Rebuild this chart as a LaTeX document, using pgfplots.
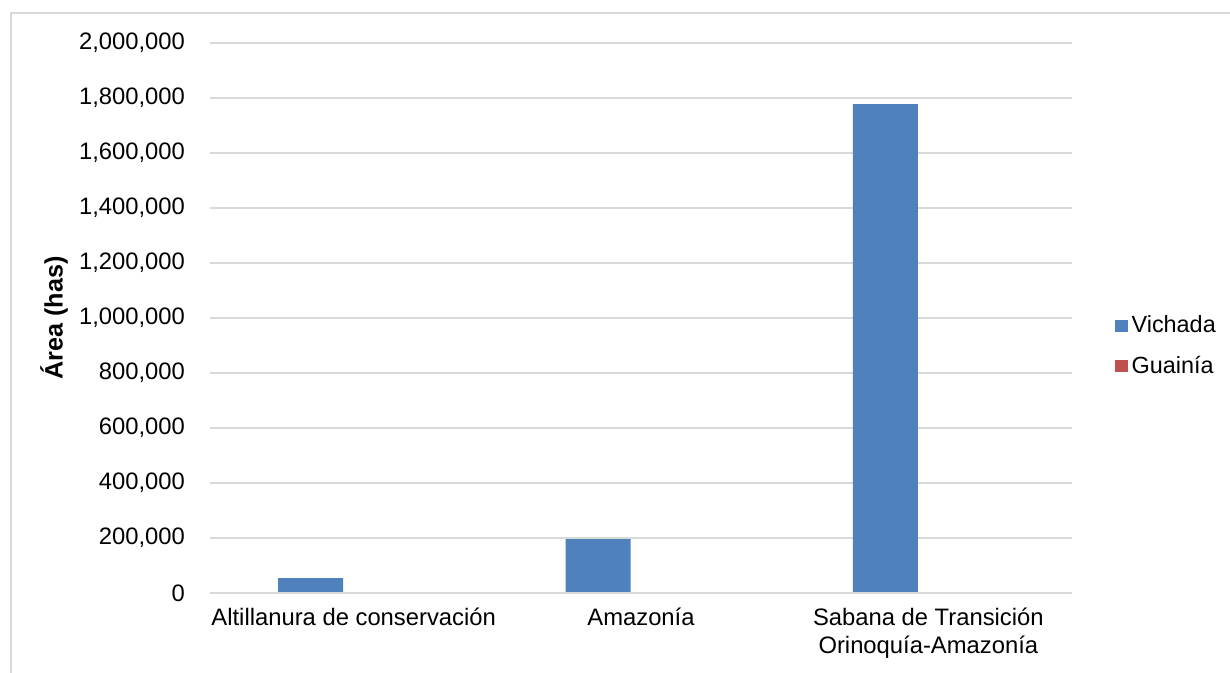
\documentclass[border=0pt]{standalone}
\usepackage{pgfplots}
\pgfplotsset{compat=1.18}
\usepackage{fontspec}
\setmainfont{Liberation Sans}
\definecolor{vichada}{HTML}{4F81BD}
\definecolor{guainia}{HTML}{C0504D}
\definecolor{gridgray}{HTML}{D9D9D9}
\begin{document}
\begin{tikzpicture}
\path[use as bounding box] (0,0) rectangle (615pt,336.5pt);
% chart frame
\draw[gridgray, line width=0.8pt] (5.5pt,0) -- (5.5pt,330pt) -- (615pt,330pt);
\begin{axis}[
  at={(105pt,40pt)}, anchor=south west,
  scale only axis, width=431pt, height=275pt,
  ybar=10.5pt, bar width=32.5pt,
  xmin=-0.5, xmax=2.5, ymin=0, ymax=2000000,
  xtick={0,1,2},
  xticklabels={Altillanura de conservación, Amazonía, {Sabana de Transición\\Orinoquía-Amazonía}},
  xticklabel style={align=center, font=\fontsize{11.9}{14}\selectfont, yshift=-4pt},
  ytick={0,200000,...,2000000},
  scaled y ticks=false,
  yticklabel style={/pgf/number format/.cd, fixed, 1000 sep={,}, assume math mode=true, /tikz/.cd, font=\fontsize{11.9}{14}\selectfont, xshift=-9pt},
  major tick length=0pt,
  axis line style={draw=none},
  ymajorgrids, grid style={gridgray, line width=0.75pt},
  ylabel={\textbf{Área (has)}},
  every axis y label/.style={at={(rel axis cs:0,0.5)}, xshift=-78pt, rotate=90, anchor=center,
    font=\fontsize{12.6}{15}\selectfont},
  legend style={at={(rel axis cs:1.049,0.449)}, anchor=west, draw=none, fill=none,
    font=\fontsize{11.7}{14}\selectfont, row sep=6pt, inner sep=0pt},
  legend cell align=left,
  legend image code/.code={\fill[#1] (0pt,-3.2pt) rectangle (6.5pt,3.2pt);},
  clip=false,
]
\addplot[fill=vichada, draw=none] coordinates {(0,54000) (1,196000) (2,1778000)};
\addplot[fill=guainia, draw=none] coordinates {(0,0) (1,800) (2,0)};
\draw[gridgray, line width=0.75pt] (axis cs:-0.5,0) -- (axis cs:2.5,0);
\legend{Vichada, Guainía}
\end{axis}
\end{tikzpicture}
\end{document}
